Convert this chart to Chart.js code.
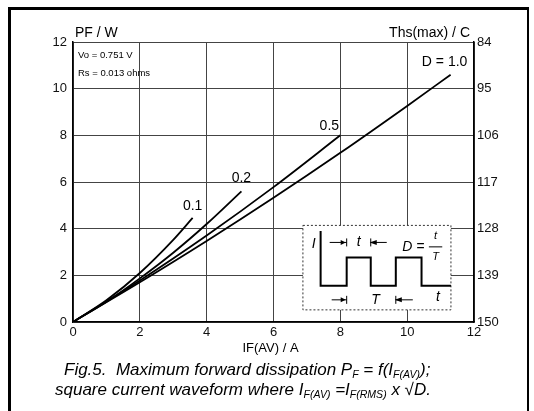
<!DOCTYPE html>
<html>
<head>
<meta charset="utf-8">
<script src="https://cdn.jsdelivr.net/npm/chart.js@4/dist/chart.umd.min.js"></script>
<style>
  html, body { margin: 0; padding: 0; background: #fff; }
  #wrap { position: relative; width: 534px; height: 411px; overflow: hidden; }
  #frame { position: absolute; left: 8px; top: 7px; width: 516px; height: 420px;
           border-left: 3px solid #000; border-top: 3px solid #000; border-right: 2px solid #000; }
  .cap { position: absolute; font: italic 17px "Liberation Sans", Arial, sans-serif; color: #000; white-space: nowrap; }
  .cap sub { font-size: 0.62em; vertical-align: -0.3em; line-height: 0; }
</style>
</head>
<body>
<div id="wrap">
  <canvas id="chart" width="534" height="411"></canvas>
  <div id="frame"></div>
  <div class="cap" style="left:64px; top:360px;">Fig.5.&nbsp; Maximum forward dissipation P<sub>F</sub> = f(I<sub>F(AV)</sub>);</div>
  <div class="cap" style="left:55px; top:380px;">square current waveform where I<sub>F(AV)</sub> =I<sub>F(RMS)</sub> x √D.</div>
</div>
<script>
/* ---- data ---- */
const xTicks = [0, 2, 4, 6, 8, 10, 12];
const yTicks = [0, 2, 4, 6, 8, 10, 12];
const rightTicks = [150, 139, 128, 117, 106, 95, 84];

const current01 = [0, 1, 2, 3, 3.58];
const power01   = [0, 0.93, 2.1, 3.52, 4.46];

const current02 = [0, 1, 2, 3, 4, 5.04];
const power02   = [0, 0.87, 1.87, 2.97, 4.2, 5.6];

const current05 = [0, 2, 4, 6, 8];
const power05   = [0, 1.78, 3.71, 5.78, 8.0];

const current10 = [0, 2, 4, 6, 8, 10, 11.3];
const power10   = [0, 1.7, 3.47, 5.32, 7.25, 9.26, 10.6];

const dutyLabels = ["0.1", "0.2", "0.5", "D = 1.0"];

function pts(xs, ys) { return xs.map((x, i) => ({ x, y: ys[i] })); }

function lineSet(xs, ys) {
  return {
    data: pts(xs, ys),
    borderColor: "#000",
    borderWidth: 1.8,
    pointRadius: 0,
    cubicInterpolationMode: "monotone",
    fill: false
  };
}

const FONT = '"Liberation Sans", Arial, sans-serif';

/* label offsets from each curve's end (px) */
const labelOffsets = [[0, -12], [0, -13], [-11, -9], [-6, -13]];

/* inset waveform sketch, in axis units */
const inset = {
  box: [6.88, 11.31, 0.52, 4.14],
  left: 7.41, base: 1.55, topI: 3.9, high: 2.76,
  pulses: [[8.19, 8.91], [9.66, 10.43]]
};

function arrow(ctx, x1, x2, y) {
  const dir = Math.sign(x2 - x1);
  ctx.beginPath();
  ctx.moveTo(x1, y); ctx.lineTo(x2, y);
  ctx.moveTo(x2, y - 4); ctx.lineTo(x2, y + 4);
  ctx.stroke();
  ctx.beginPath();
  ctx.moveTo(x2 - 1, y);
  ctx.lineTo(x2 - dir * 6, y - 2.5);
  ctx.lineTo(x2 - dir * 6, y + 2.5);
  ctx.closePath();
  ctx.fill();
}

const decor = {
  id: "decor",
  afterDatasetsDraw(chart) {
    const ctx = chart.ctx;
    const xs = chart.scales.x, ys = chart.scales.y;
    const X = v => xs.getPixelForValue(v), Y = v => ys.getPixelForValue(v);
    ctx.save();

    /* inset box */
    const [bx0, bx1, by0, by1] = inset.box;
    ctx.fillStyle = "#fff";
    ctx.fillRect(X(bx0), Y(by1), X(bx1) - X(bx0), Y(by0) - Y(by1));
    ctx.strokeStyle = "#333";
    ctx.lineWidth = 1;
    ctx.setLineDash([2, 2]);
    ctx.strokeRect(X(bx0), Y(by1), X(bx1) - X(bx0), Y(by0) - Y(by1));
    ctx.setLineDash([]);

    /* waveform */
    ctx.strokeStyle = "#000";
    ctx.lineWidth = 2;
    ctx.beginPath();
    ctx.moveTo(X(inset.left), Y(inset.topI));
    ctx.lineTo(X(inset.left), Y(inset.base));
    inset.pulses.forEach(([a, b]) => {
      ctx.lineTo(X(a), Y(inset.base));
      ctx.lineTo(X(a), Y(inset.high));
      ctx.lineTo(X(b), Y(inset.high));
      ctx.lineTo(X(b), Y(inset.base));
    });
    ctx.lineTo(X(bx1), Y(inset.base));
    ctx.stroke();

    /* arrows and inset text */
    ctx.lineWidth = 1;
    ctx.fillStyle = "#000";
    const ta = Y(3.41), tb = Y(0.95);
    const p1 = inset.pulses[0], p2 = inset.pulses[1];
    arrow(ctx, X(p1[0]) - 17, X(p1[0]), ta);
    arrow(ctx, X(p1[1]) + 16, X(p1[1]), ta);
    arrow(ctx, X(p1[0]) - 15, X(p1[0]), tb);
    arrow(ctx, X(p2[0]) + 17, X(p2[0]), tb);

    ctx.font = "italic 14px " + FONT;
    ctx.textAlign = "center";
    ctx.textBaseline = "middle";
    ctx.fillText("I", X(7.2), Y(3.35));
    ctx.fillText("t", X((p1[0] + p1[1]) / 2), ta);
    ctx.fillText("T", X(9.05), tb);
    ctx.fillText("t", X(10.92), Y(1.05));
    ctx.textAlign = "left";
    ctx.fillText("D =", X(9.85), Y(3.22));
    ctx.font = "italic 11px " + FONT;
    ctx.textAlign = "center";
    ctx.fillText("t", X(10.85), Y(3.67));
    ctx.fillText("T", X(10.85), Y(2.77));
    ctx.beginPath();
    ctx.moveTo(X(10.65), Y(3.22)); ctx.lineTo(X(11.05), Y(3.22));
    ctx.stroke();

    /* curve labels */
    ctx.font = "14px " + FONT;
    ctx.textAlign = "center";
    chart.data.datasets.forEach((ds, i) => {
      const last = ds.data[ds.data.length - 1];
      const [dx, dy] = labelOffsets[i];
      ctx.fillText(dutyLabels[i], X(last.x) + dx, Y(last.y) + dy);
    });

    /* parameters */
    ctx.font = "9.5px " + FONT;
    ctx.textAlign = "left";
    ctx.fillText("Vo = 0.751 V", chart.chartArea.left + 5, chart.chartArea.top + 13);
    ctx.fillText("Rs = 0.013 ohms", chart.chartArea.left + 5, chart.chartArea.top + 31);

    /* axis titles */
    ctx.font = "14px " + FONT;
    ctx.textBaseline = "middle";
    ctx.textAlign = "left";
    ctx.fillText("PF / W", chart.chartArea.left + 2, chart.chartArea.top - 9);
    ctx.textAlign = "right";
    ctx.fillText("Ths(max) / C", chart.chartArea.right - 4, chart.chartArea.top - 9);
    ctx.font = "13px " + FONT;
    ctx.textAlign = "center";
    ctx.fillText("IF(AV) / A", (chart.chartArea.left + chart.chartArea.right) / 2 - 3, chart.chartArea.bottom + 26);
    ctx.restore();
  }
};

new Chart(document.getElementById("chart"), {
  type: "line",
  data: {
    datasets: [
      lineSet(current01, power01),
      lineSet(current02, power02),
      lineSet(current05, power05),
      lineSet(current10, power10)
    ]
  },
  options: {
    responsive: false,
    animation: false,
    layout: { padding: { top: 42 } },
    plugins: { legend: { display: false }, tooltip: { enabled: false } },
    scales: {
      x: {
        type: "linear", min: 0, max: 12,
        afterBuildTicks: s => { s.ticks = xTicks.map(v => ({ value: v })); },
        afterFit: s => { s.height = 89; },
        ticks: { color: "#111", font: { family: FONT, size: 13 }, padding: 3 },
        grid: { color: "#444", lineWidth: 1, drawTicks: false },
        border: { color: "#000", width: 1.5 }
      },
      y: {
        position: "left", min: 0, max: 12,
        afterBuildTicks: s => { s.ticks = yTicks.map(v => ({ value: v })); },
        afterFit: s => { s.width = 73; },
        ticks: { color: "#111", font: { family: FONT, size: 13 }, padding: 6 },
        grid: { color: "#444", lineWidth: 1, drawTicks: false },
        border: { color: "#000", width: 1.5 }
      },
      y2: {
        position: "right", min: 84, max: 150, reverse: true,
        afterBuildTicks: s => { s.ticks = rightTicks.map(v => ({ value: v })); },
        afterFit: s => { s.width = 60; },
        ticks: { color: "#111", font: { family: FONT, size: 13 }, padding: 3 },
        grid: { drawOnChartArea: false, drawTicks: false },
        border: { color: "#000", width: 1.5 }
      }
    }
  },
  plugins: [decor]
});
</script>
</body>
</html>
